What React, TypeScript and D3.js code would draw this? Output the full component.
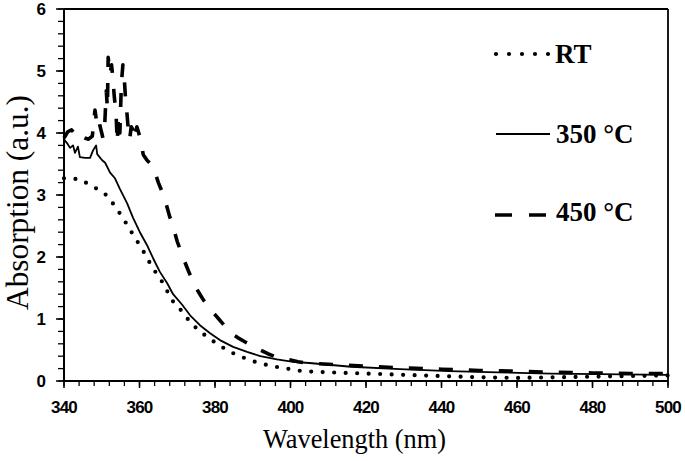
import React from "react";
import * as d3 from "d3";

// ---- data (wavelength nm, absorption a.u.) ----
const rtWl = [340, 341, 344, 346.4, 349.3, 351.4, 353.5, 355.6, 357.2, 358.8, 360.7, 362.3, 364.1, 366, 367.6, 369.1, 371.5, 373.4, 375.8, 378.4, 381, 384, 387, 390, 393, 396, 400, 403, 406, 410, 420, 430, 440, 450, 460, 470, 480, 490, 500];
const rtAbs = [3.27, 3.26, 3.26, 3.18, 3.08, 2.99, 2.82, 2.63, 2.47, 2.31, 2.13, 1.95, 1.77, 1.6, 1.42, 1.26, 1.11, 0.95, 0.81, 0.69, 0.58, 0.47, 0.39, 0.32, 0.27, 0.23, 0.19, 0.16, 0.15, 0.14, 0.12, 0.1, 0.08, 0.06, 0.05, 0.06, 0.07, 0.08, 0.09];

const c350Wl = [340, 341, 341.6, 342.4, 342.9, 343.7, 344.2, 345.6, 346.9, 347.7, 348.5, 348.8, 350.1, 350.9, 352.2, 353.5, 354.8, 356.7, 358.3, 360.1, 362, 363.6, 365.4, 367.3, 368.9, 371.3, 373.4, 376, 378.7, 381.3, 384.8, 388.5, 392, 396.4, 400.7, 405, 416, 429, 442, 455, 469, 482, 500];
const c350Abs = [3.9, 3.82, 3.76, 3.8, 3.68, 3.78, 3.61, 3.6, 3.6, 3.72, 3.8, 3.66, 3.56, 3.52, 3.36, 3.27, 3.1, 2.87, 2.63, 2.4, 2.19, 1.98, 1.76, 1.58, 1.4, 1.23, 1.06, 0.9, 0.77, 0.66, 0.55, 0.47, 0.4, 0.35, 0.31, 0.29, 0.23, 0.19, 0.16, 0.14, 0.12, 0.11, 0.1];

const c450Wl = [340, 341, 342, 343, 343.7, 344.5, 345.5, 346.5, 347.5, 348.2, 348.6, 349, 349.5, 350, 350.3, 350.8, 351.2, 351.5, 351.7, 352.2, 352.6, 353, 353.3, 353.8, 354.1, 354.4, 354.8, 355.2, 355.6, 356, 356.3, 356.7, 357, 357.4, 357.8, 358.3, 358.8, 359.3, 359.8, 360.4, 361, 362, 363, 364, 365, 366, 367, 368, 369, 370, 371, 372, 373, 374, 375, 376, 377, 378, 379, 380, 381, 382, 384, 386, 388, 390, 392, 394, 396, 398, 400, 402, 404, 410, 420, 430, 440, 450, 460, 470, 480, 490, 500];
const c450Abs = [3.92, 4.02, 4.05, 3.98, 4.02, 3.95, 3.92, 3.9, 3.95, 4.37, 4.2, 4.28, 4.12, 4.0, 3.92, 4.15, 4.68, 4.4, 5.22, 4.95, 5.1, 4.85, 4.6, 4.3, 3.85, 4.25, 4.0, 4.8, 5.1, 4.85, 4.55, 4.3, 4.08, 3.9, 4.1, 4.05, 3.9, 4.1, 4.0, 3.85, 3.65, 3.56, 3.5, 3.38, 3.2, 3.05, 2.87, 2.65, 2.47, 2.25, 2.08, 1.92, 1.77, 1.63, 1.5, 1.4, 1.3, 1.22, 1.14, 1.07, 1.0, 0.93, 0.78, 0.7, 0.63, 0.56, 0.5, 0.44, 0.39, 0.36, 0.34, 0.31, 0.29, 0.27, 0.24, 0.21, 0.19, 0.17, 0.16, 0.14, 0.13, 0.12, 0.12];

const xTicks = [340, 360, 380, 400, 420, 440, 460, 480, 500];
const yTicks = [0, 1, 2, 3, 4, 5, 6];

const legendLabels = ["RT", "350 °C", "450 °C"];

export default function App() {
  const W = 685, H = 461;
  const x0 = 64, x1 = 668, y0 = 381, y1 = 9;
  const x = d3.scaleLinear().domain([340, 500]).range([x0, x1]);
  const y = d3.scaleLinear().domain([0, 6]).range([y0, y1]);
  const line = d3.line<[number, number]>().x(d => x(d[0])).y(d => y(d[1]));
  const zip = (a: number[], b: number[]) => a.map((v, i) => [v, b[i]] as [number, number]);

  const xMinor = d3.range(340, 500.01, 4);
  const yMinor = d3.range(0, 6.001, 0.2);

  const tickFont = "'Liberation Sans', Arial, sans-serif";
  const serif = "'Liberation Serif', 'Times New Roman', serif";

  return (
    <svg width={W} height={H} style={{ position: "absolute", left: 0, top: 0, background: "#fff" }}>
      <rect x={0} y={0} width={W} height={H} fill="#fff" />
      {/* data lines */}
      <path d={line(zip(rtWl, rtAbs)) || ""} fill="none" stroke="#000" strokeWidth={4.2} strokeLinecap="round" strokeDasharray="0 11.5" />
      <path d={line(zip(c350Wl, c350Abs)) || ""} fill="none" stroke="#000" strokeWidth={1.8} strokeLinejoin="round" />
      <path d={line(zip(c450Wl, c450Abs)) || ""} fill="none" stroke="#000" strokeWidth={3.6} strokeDasharray="14 16" strokeLinejoin="round" />

      {/* frame */}
      <line x1={x0} x2={x1} y1={y1} y2={y1} stroke="#000" strokeWidth={1.8} />
      <line x1={x1} x2={x1} y1={y1} y2={y0} stroke="#000" strokeWidth={1.8} />
      <line x1={x0} x2={x0} y1={y1} y2={y0} stroke="#000" strokeWidth={2} />
      <line x1={x0} x2={x1} y1={y0} y2={y0} stroke="#000" strokeWidth={2} />

      {/* y ticks */}
      {yMinor.map((v, i) => (
        <line key={"ym" + i} x1={x0 - 6} x2={x0} y1={y(v)} y2={y(v)} stroke="#000" strokeWidth={1.3} />
      ))}
      {yTicks.map(v => (
        <g key={"yt" + v}>
          <line x1={x0 - 8} x2={x0} y1={y(v)} y2={y(v)} stroke="#000" strokeWidth={1.5} />
          <text x={46} y={y(v) + 6} textAnchor="end" fontFamily={tickFont} fontWeight="bold" fontSize={17}>{v}</text>
        </g>
      ))}

      {/* x ticks */}
      {xMinor.map((v, i) => (
        <line key={"xm" + i} x1={x(v)} x2={x(v)} y1={y0} y2={y0 + 5} stroke="#000" strokeWidth={1.3} />
      ))}
      {xTicks.map(v => (
        <g key={"xt" + v}>
          <line x1={x(v)} x2={x(v)} y1={y0} y2={y0 + 7} stroke="#000" strokeWidth={1.5} />
          <text x={x(v)} y={413} textAnchor="middle" fontFamily={tickFont} fontWeight="bold" fontSize={17} letterSpacing={-0.8}>{v}</text>
        </g>
      ))}

      {/* axis titles */}
      <text x={263} y={448} fontFamily={serif} fontSize={28} textLength={183} lengthAdjust="spacingAndGlyphs">Wavelength (nm)</text>
      <text transform="translate(28,310) rotate(-90)" x={0} y={0} fontFamily={serif} fontSize={31} textLength={215} lengthAdjust="spacingAndGlyphs">Absorption (a.u.)</text>

      {/* legend */}
      <line x1={496} x2={550} y1={54} y2={54} stroke="#000" strokeWidth={4.2} strokeLinecap="round" strokeDasharray="0 13" />
      <text x={555} y={63} fontFamily={serif} fontWeight="bold" fontSize={27}>{legendLabels[0]}</text>
      <line x1={496} x2={550} y1={134} y2={134} stroke="#000" strokeWidth={1.8} />
      <text x={556} y={143} fontFamily={serif} fontWeight="bold" fontSize={27}>{legendLabels[1]}</text>
      <line x1={495} x2={546} y1={215} y2={215} stroke="#000" strokeWidth={3.6} strokeDasharray="17 17" />
      <text x={556} y={221} fontFamily={serif} fontWeight="bold" fontSize={27}>{legendLabels[2]}</text>
    </svg>
  );
}
